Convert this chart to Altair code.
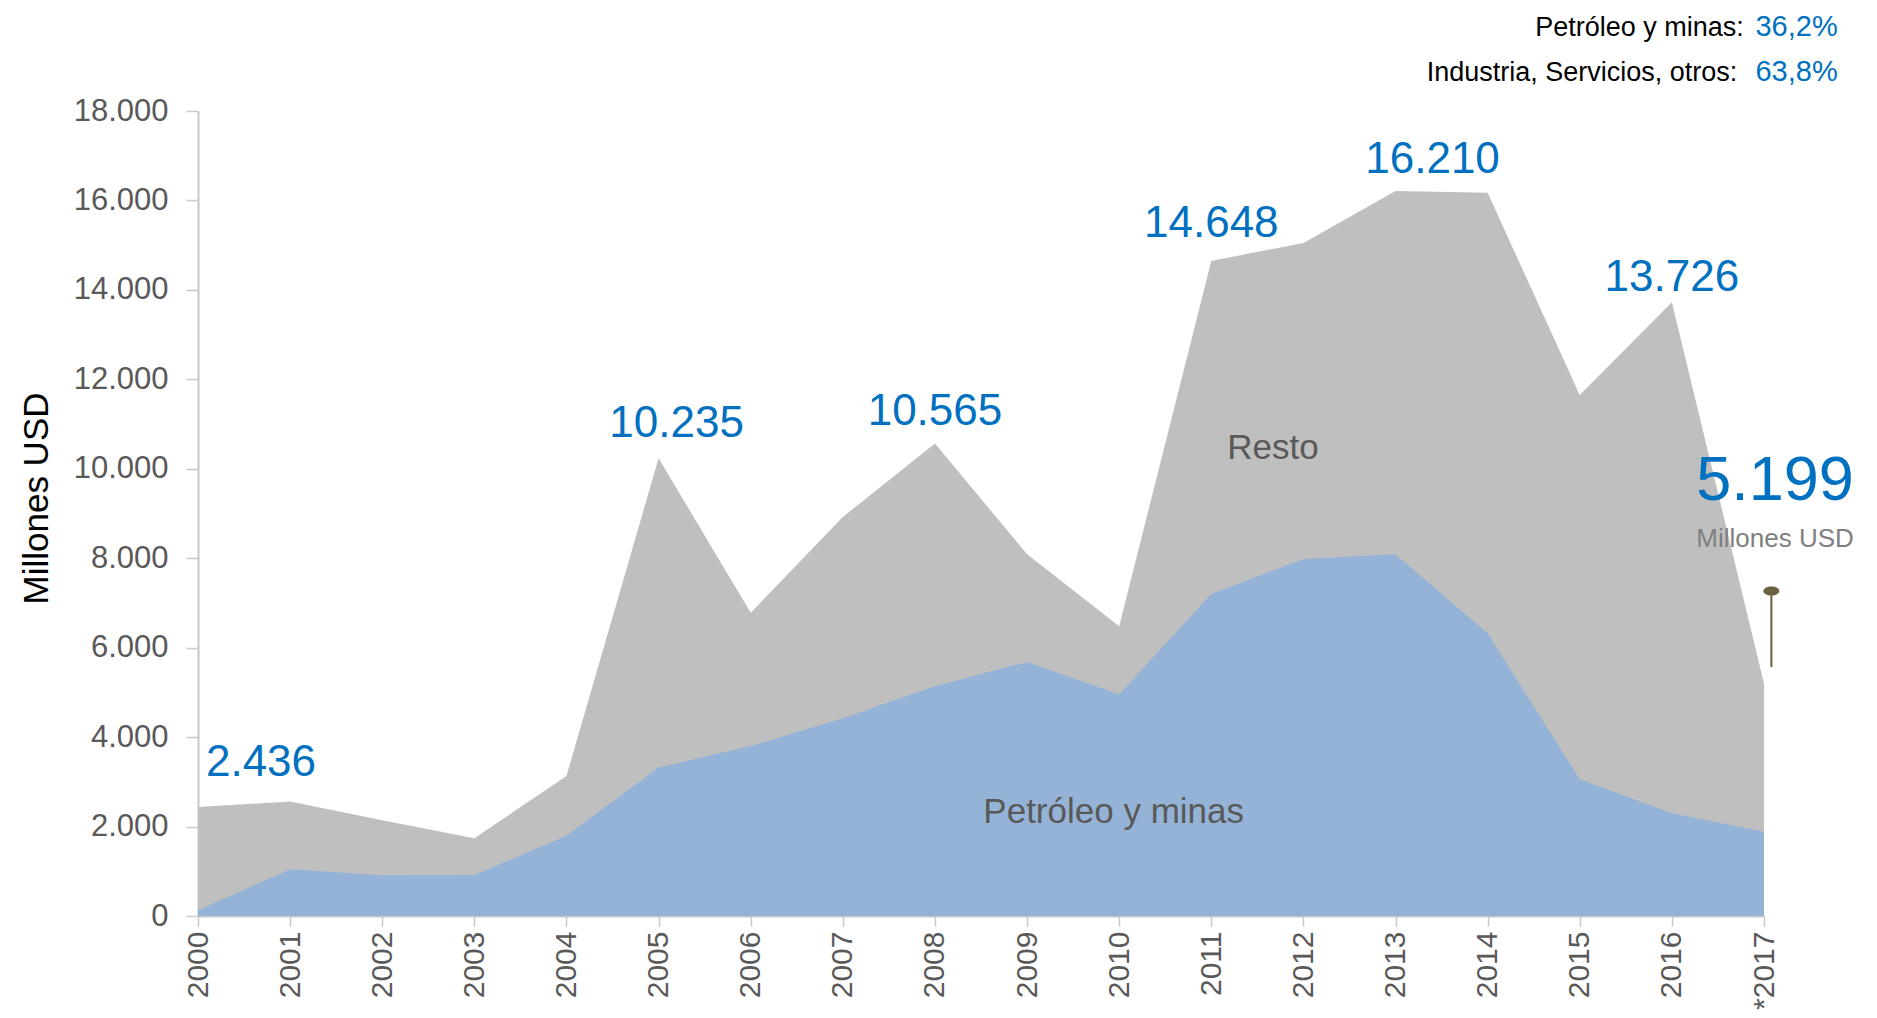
import altair as alt
import pandas as pd

# ---------------- data ----------------
years = list(range(2000, 2018))
total = [2436, 2560, 2140, 1740, 3130, 10235, 6780, 8920, 10565, 8090,
         6480, 14648, 15050, 16210, 16170, 11650, 13726, 5199]
petroleo = [130, 1045, 910, 915, 1795, 3320, 3800, 4420, 5140, 5680,
            4955, 7205, 7980, 8090, 6320, 3055, 2300, 1882]

label_years = [2000, 2005, 2008, 2011, 2013, 2016]
label_values = [2436, 10235, 10565, 14648, 16210, 13726]
label_texts = ["2.436", "10.235", "10.565", "14.648", "16.210", "13.726"]

share_names = ["Petróleo y minas:", "Industria, Servicios, otros:"]
share_values = ["36,2%", "63,8%"]

last_value_text = "5.199"
unit_text = "Millones USD"

# ---------------- styling ----------------
FONT = "Liberation Sans, Arial, sans-serif"
BLUE = "#0070C0"
GRAY_AREA = "#BFBFBF"
BLUE_AREA = "#95B3D7"
AXIS_GRAY = "#C8C8C8"
TEXT_GRAY = "#595959"
PIN = "#6B6040"

df = pd.DataFrame({"year": years, "total": total, "petroleo": petroleo})

x_scale = alt.Scale(domain=[2000, 2017], nice=False, zero=False)
y_scale = alt.Scale(domain=[0, 18000], nice=False)

x_axis = alt.Axis(
    values=years,
    labelExpr="datum.value == 2017 ? '*2017' : '' + datum.value",
    labelAngle=-90, labelAlign="right", labelBaseline="middle",
    labelFont=FONT, labelFontSize=30, labelColor=TEXT_GRAY, labelPadding=5,
    tickSize=10, tickColor=AXIS_GRAY, tickWidth=1.5,
    domainColor=AXIS_GRAY, domainWidth=2, grid=False, title=None,
)
y_axis = alt.Axis(
    values=list(range(0, 18001, 2000)),
    labelExpr="replace(format(datum.value, ',d'), ',', '.')",
    labelFont=FONT, labelFontSize=31, labelColor=TEXT_GRAY, labelPadding=18,
    tickSize=12, tickColor=AXIS_GRAY, tickWidth=1.5,
    domainColor=AXIS_GRAY, domainWidth=2, grid=False,
    title="Millones USD", titleFont=FONT, titleFontSize=35, titleFontWeight="normal",
    titleColor="black", titleX=-162, titleY=387, titleAngle=-90,
    titleAlign="center", titleBaseline="middle",
)

base = alt.Chart(df)

gray = base.mark_area(color=GRAY_AREA, opacity=1).encode(
    x=alt.X("year:Q", scale=x_scale, axis=x_axis),
    y=alt.Y("total:Q", scale=y_scale, axis=y_axis),
    y2=alt.datum(0),
)
blue = base.mark_area(color=BLUE_AREA, opacity=1).encode(
    x=alt.X("year:Q", scale=x_scale),
    y=alt.Y("petroleo:Q", scale=y_scale),
    y2=alt.datum(0),
)

layers = [gray, blue]

# value labels
label_dx = [63, 18, 0, 0, 37, 0]
label_dy = [-31, -21, -19, -24, -18, -11]
for yr, v, t, dx, dy in zip(label_years, label_values, label_texts, label_dx, label_dy):
    ldf = pd.DataFrame({"year": [yr], "value": [v], "text": [t]})
    layers.append(
        alt.Chart(ldf).mark_text(
            font=FONT, fontSize=44, color=BLUE, align="center",
            baseline="alphabetic", dx=dx, dy=dy,
        ).encode(
            x=alt.X("year:Q", scale=x_scale),
            y=alt.Y("value:Q", scale=y_scale),
            text="text:N",
        )
    )

# area names
names_df = pd.DataFrame({
    "year": [2011.67, 2009.94],
    "value": [10466, 2320],
    "text": ["Resto", "Petróleo y minas"],
})
layers.append(
    alt.Chart(names_df).mark_text(
        font=FONT, fontSize=35, color=TEXT_GRAY, align="center", baseline="middle"
    ).encode(
        x=alt.X("year:Q", scale=x_scale),
        y=alt.Y("value:Q", scale=y_scale),
        text="text:N",
    )
)

# last value annotation
last_df = pd.DataFrame({"year": [2017.12], "value": [9302], "text": [last_value_text]})
layers.append(
    alt.Chart(last_df).mark_text(
        font=FONT, fontSize=63, color=BLUE, align="center", baseline="alphabetic"
    ).encode(
        x=alt.X("year:Q", scale=x_scale),
        y=alt.Y("value:Q", scale=y_scale),
        text="text:N",
    )
)
unit_df = pd.DataFrame({"year": [2017.12], "value": [8250], "text": [unit_text]})
layers.append(
    alt.Chart(unit_df).mark_text(
        font=FONT, fontSize=26, color="#808080", align="center", baseline="alphabetic"
    ).encode(
        x=alt.X("year:Q", scale=x_scale),
        y=alt.Y("value:Q", scale=y_scale),
        text="text:N",
    )
)

# pin
pin_df = pd.DataFrame({"year": [2017.08], "top": [7266], "bottom": [5565]})
layers.append(
    alt.Chart(pin_df).mark_rule(color=PIN, strokeWidth=2).encode(
        x=alt.X("year:Q", scale=x_scale),
        y=alt.Y("top:Q", scale=y_scale),
        y2="bottom:Q",
    )
)
layers.append(
    alt.Chart(pin_df).mark_point(
        shape="M-1,0A1,0.56,0,1,1,1,0A1,0.56,0,1,1,-1,0Z",
        filled=True, color=PIN, opacity=1, size=256,
    ).encode(
        x=alt.X("year:Q", scale=x_scale),
        y=alt.Y("top:Q", scale=y_scale),
    )
)

# share text at top right
share_df = pd.DataFrame({
    "name": share_names,
    "val": share_values,
    "xname": [2016.78, 2016.71],
    "xval": [2017.80, 2017.80],
    "value": [19685, 18678],
})
layers.append(
    alt.Chart(share_df).mark_text(
        font=FONT, fontSize=27, color="black", align="right", baseline="alphabetic"
    ).encode(
        x=alt.X("xname:Q", scale=x_scale),
        y=alt.Y("value:Q", scale=y_scale),
        text="name:N",
    )
)
layers.append(
    alt.Chart(share_df).mark_text(
        font=FONT, fontSize=29, color=BLUE, align="right", baseline="alphabetic"
    ).encode(
        x=alt.X("xval:Q", scale=x_scale),
        y=alt.Y("value:Q", scale=y_scale),
        text="val:N",
    )
)

chart = alt.layer(*layers).properties(
    width=1566,
    height=805,
    background="white",
    autosize=alt.AutoSizeParams(type="none"),
    padding={"left": 190, "top": 103, "right": 100, "bottom": 94},
).configure_view(stroke=None, strokeWidth=0)

chart.save("out.html", embed_options={"renderer": "svg", "actions": False})
